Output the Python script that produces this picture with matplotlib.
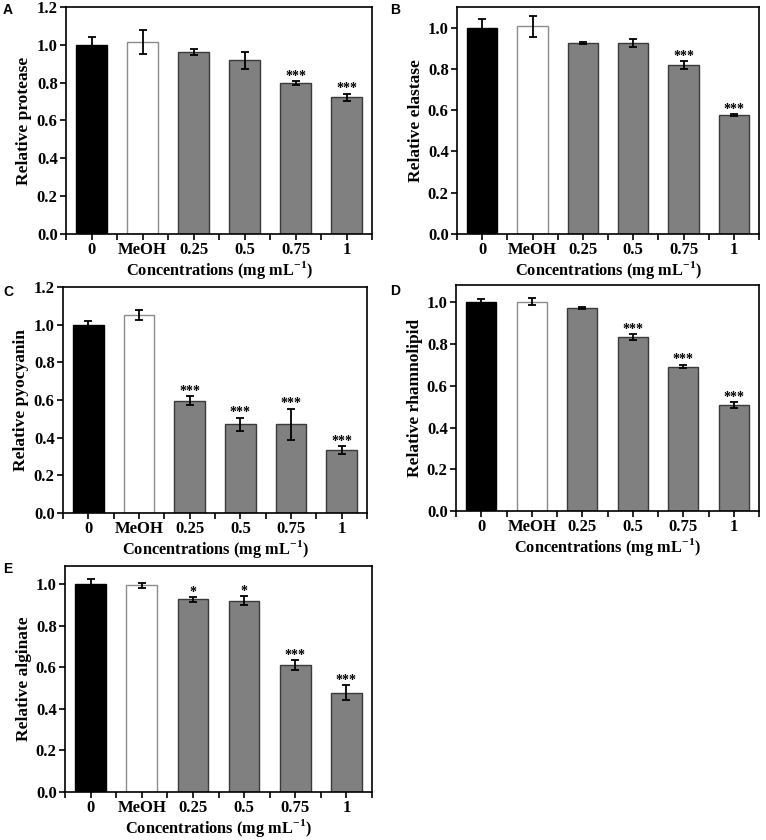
import numpy as np
import matplotlib
matplotlib.use("AGG")
import matplotlib.pyplot as plt

plt.rcParams['font.family'] = ['Liberation Serif', 'DejaVu Serif']
plt.rcParams['font.weight'] = 'bold'
plt.rcParams['mathtext.fontset'] = 'custom'
plt.rcParams['mathtext.rm'] = 'Liberation Serif:bold'
plt.rcParams['mathtext.bf'] = 'Liberation Serif:bold'

categories = ["0", "MeOH", "0.25", "0.5", "0.75", "1"]

protease = [1.00, 1.016, 0.962, 0.919, 0.798, 0.723]
protease_err = [0.040, 0.063, 0.018, 0.045, 0.009, 0.019]
protease_sig = ["", "", "", "", "***", "***"]

elastase = [1.00, 1.006, 0.927, 0.925, 0.818, 0.577]
elastase_err = [0.044, 0.052, 0.004, 0.021, 0.019, 0.004]
elastase_sig = ["", "", "", "", "***", "***"]

pyocyanin = [1.00, 1.053, 0.597, 0.470, 0.470, 0.334]
pyocyanin_err = [0.020, 0.027, 0.024, 0.036, 0.083, 0.020]
pyocyanin_sig = ["", "", "***", "***", "***", "***"]

rhamnolipid = [1.00, 1.003, 0.973, 0.834, 0.692, 0.508]
rhamnolipid_err = [0.018, 0.018, 0.004, 0.014, 0.009, 0.014]
rhamnolipid_sig = ["", "", "", "***", "***", "***"]

alginate = [1.00, 0.995, 0.927, 0.920, 0.612, 0.477]
alginate_err = [0.024, 0.013, 0.010, 0.022, 0.024, 0.036]
alginate_sig = ["", "", "*", "*", "***", "***"]

W, H = 766.0, 840.0

def box(l, r, t, b):
	return [l / W, (H - b) / H, (r - l) / W, (b - t) / H]

panels = [
	("A", "Relative protease", protease, protease_err, protease_sig, box(66, 372, 7, 234), 1.2, (3, 3)),
	("B", "Relative elastase", elastase, elastase_err, elastase_sig, box(457, 759, 7, 234), 1.1, (390, 3)),
	("C", "Relative pyocyanin", pyocyanin, pyocyanin_err, pyocyanin_sig, box(63, 367, 287, 513), 1.2, (3, 285)),
	("D", "Relative rhamnolipid", rhamnolipid, rhamnolipid_err, rhamnolipid_sig, box(456, 759, 285, 511), 1.083, (390, 284)),
	("E", "Relative alginate", alginate, alginate_err, alginate_sig, box(65, 372, 566, 792), 1.088, (3, 562)),
]

colors = ["black", "white", "#808080", "#808080", "#808080", "#808080"]
edges = ["black", "#8c8c8c", "#3a3a3a", "#3a3a3a", "#3a3a3a", "#3a3a3a"]

fig = plt.figure(figsize=(7.66, 8.4), dpi=100)

for letter, ylab, vals, errs, sig, rect, ytop, lpos in panels:
	ax = fig.add_axes(rect)
	x = np.arange(len(categories))
	ax.bar(x, vals, width=0.6, color=colors, edgecolor=edges, linewidth=1.0, zorder=2)
	ax.errorbar(x, vals, yerr=errs, fmt="none", ecolor="black", elinewidth=1.3,
		capsize=3, capthick=1.3, zorder=3)
	for i in range(len(x)):
		if sig[i]:
			ax.text(x[i], vals[i] + errs[i] - 0.008, sig[i], ha="center", va="bottom",
				fontsize=10, fontweight="bold")
	ax.set_xlim(-0.5, 5.5)
	ax.set_ylim(0, ytop)
	ax.set_yticks(np.arange(0, ytop + 0.001, 0.2))
	ax.set_yticklabels(["%.1f" % v for v in np.arange(0, ytop + 0.001, 0.2)])
	ax.set_xticks(x)
	ax.set_xticklabels(categories)
	ax.set_xticks(np.arange(-0.5, 5.6, 1.0), minor=True)
	ax.tick_params(axis="both", which="major", direction="out", length=4, width=1.2,
		labelsize=12, top=False, right=False, pad=2)
	ax.tick_params(axis="x", which="minor", direction="out", length=4, width=1.2)
	for s in ax.spines.values():
		s.set_linewidth(1.2)
	ax.set_ylabel(ylab, fontsize=12.5, fontweight="bold", labelpad=3)
	ax.set_xlabel(r"Concentrations (mg mL$^{\mathbf{-1}}$)", fontsize=11.8, fontweight="bold", labelpad=0.5)
	fig.text(lpos[0] / W, 1 - lpos[1] / H, letter, family="Liberation Sans", fontweight="bold",
		fontsize=10, ha="left", va="top")

plt.savefig("out.png", dpi=100)
